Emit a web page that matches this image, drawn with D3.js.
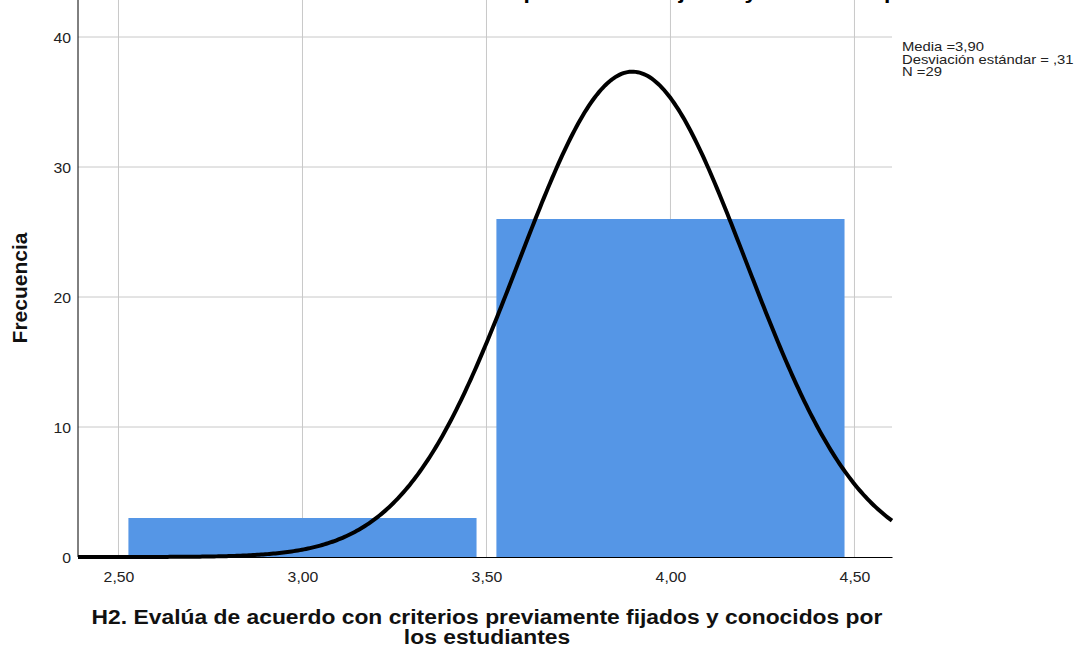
<!DOCTYPE html>
<html><head><meta charset="utf-8">
<script src="https://cdn.jsdelivr.net/npm/d3@7"></script>
<style>body{margin:0;background:#fff}svg{display:block}text{font-family:"Liberation Sans",Arial,sans-serif}</style>
</head><body><svg id="c" width="1085" height="653"></svg>
<script>
const binCenters = [3.0, 4.0];
const binCounts = [3, 26];
const binWidth = 1.0;
const xTicks = [2.5, 3.0, 3.5, 4.0, 4.5];
const yTicks = [0, 10, 20, 30, 40];
const statMean = 3.8966;
const statSd = 0.3099;
const statN = 29;
const legendLines = ["Media =3,90", "Desviación estándar = ,31", "N =29"];
const titleText = "H2. Evalúa de acuerdo con criterios previamente fijados y conocidos por los estudiantes";
const xTitle = ["H2. Evalúa de acuerdo con criterios previamente fijados y conocidos por", "los estudiantes"];
const yTitle = "Frecuencia";

const svg = d3.select("#c");
const L = 78, R = 892, T = 0, B = 557;
const x = d3.scaleLinear().domain([2.39, 4.602]).range([L, R]);
const y = d3.scaleLinear().domain([0, 40]).range([B, 37]);
const fmt = d => d3.format(".2f")(d).replace(".", ",");
const SX_SMALL = 1.13, SX_BIG = 1.088;

// grid
svg.append("g").selectAll("line").data(xTicks).join("line")
  .attr("x1", d => x(d)).attr("x2", d => x(d)).attr("y1", T).attr("y2", B)
  .attr("stroke", "#c8c8c8").attr("stroke-width", 1);
svg.append("g").selectAll("line").data(yTicks.filter(d => d > 0)).join("line")
  .attr("x1", L).attr("x2", R).attr("y1", d => y(d)).attr("y2", d => y(d))
  .attr("stroke", "#c8c8c8").attr("stroke-width", 1);

// bars
const pad = 0.027;
svg.append("g").selectAll("rect").data(binCenters).join("rect")
  .attr("x", d => x(d - binWidth / 2 + pad))
  .attr("width", d => x(d + binWidth / 2 - pad) - x(d - binWidth / 2 + pad))
  .attr("y", (d, i) => y(binCounts[i]))
  .attr("height", (d, i) => y(0) - y(binCounts[i]))
  .attr("fill", "#5596e6");

// axes
const xAxis = d3.axisBottom(x).tickValues(xTicks).tickFormat(fmt).tickSize(0);
const gx = svg.append("g").attr("transform", `translate(0,${B})`).call(xAxis);
gx.select(".domain").attr("stroke", "#000");
gx.selectAll(".tick text").attr("y", 0).attr("dy", 0)
  .attr("font-size", 14).attr("fill", "#222").style("font-family", "Liberation Sans, Arial, sans-serif")
  .attr("transform", `translate(0,25) scale(${SX_SMALL},1)`);
const yAxis = d3.axisLeft(y).tickValues(yTicks).tickFormat(d3.format("d")).tickSize(0);
const gy = svg.append("g").attr("transform", `translate(${L},0)`).call(yAxis);
gy.select(".domain").remove();
gy.selectAll(".tick text").attr("x", 0).attr("dy", 0)
  .attr("font-size", 14).attr("fill", "#222").style("font-family", "Liberation Sans, Arial, sans-serif")
  .attr("transform", `translate(-7,5.5) scale(${SX_SMALL},1)`);
svg.append("line").attr("x1", L).attr("x2", L).attr("y1", T).attr("y2", B).attr("stroke", "#000");

// normal curve
const k = statN * binWidth / (statSd * Math.sqrt(2 * Math.PI));
const pts = d3.range(0, 401).map(i => {
  const xv = x.domain()[0] + (x.domain()[1] - x.domain()[0]) * i / 400;
  return [xv, k * Math.exp(-0.5 * ((xv - statMean) / statSd) ** 2)];
});
svg.append("path").datum(pts)
  .attr("d", d3.line().x(d => x(d[0])).y(d => y(d[1])))
  .attr("fill", "none").attr("stroke", "#000").attr("stroke-width", 4);

// title (clipped at top edge)
svg.append("text").attr("transform", `translate(130,-1) scale(${SX_BIG},1)`)
  .attr("font-size", 21).attr("font-weight", "bold").attr("fill", "#000").text(titleText);

// legend
svg.selectAll(".lg").data(legendLines).join("text").attr("class", "lg")
  .attr("transform", (d, i) => `translate(902,${51 + i * 12.5}) scale(1.14,1)`)
  .attr("font-size", 13).attr("fill", "#222").text(d => d);

// axis titles
svg.append("g").selectAll("text").data(xTitle).join("text")
  .attr("transform", (d, i) => `translate(487,${624 + i * 20}) scale(${SX_BIG},1)`)
  .attr("text-anchor", "middle")
  .attr("font-size", 21).attr("font-weight", "bold").attr("fill", "#111").text(d => d);
svg.append("text").attr("transform", "translate(27,288) rotate(-90)").attr("text-anchor", "middle")
  .attr("font-size", 21).attr("font-weight", "bold").attr("fill", "#111").text(yTitle);
</script></body></html>
